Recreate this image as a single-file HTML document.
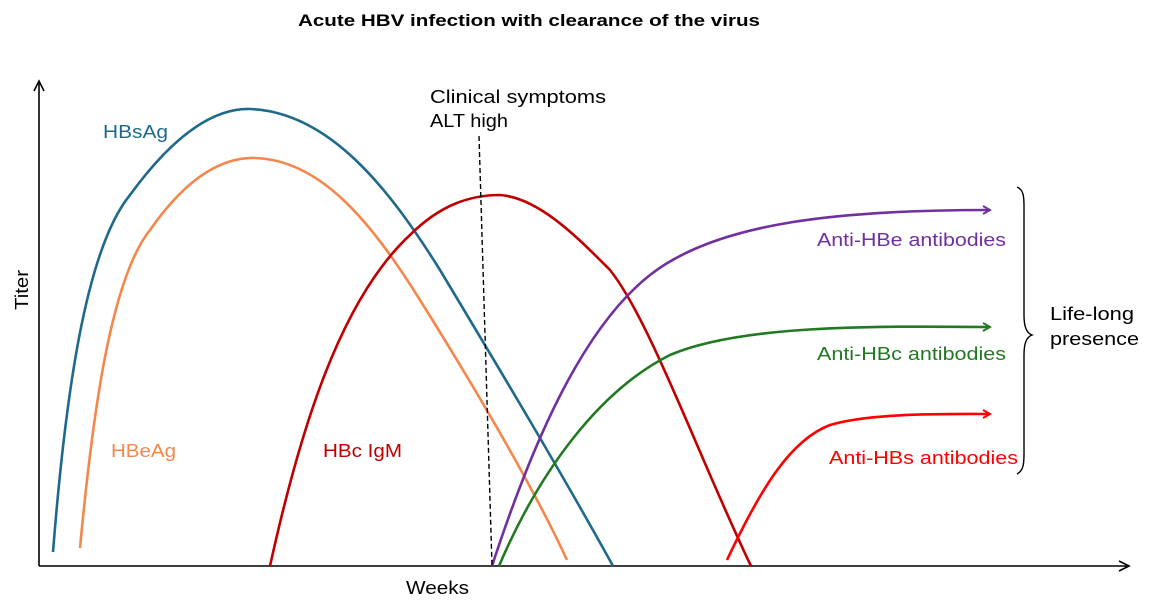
<!DOCTYPE html>
<html><head><meta charset="utf-8"><style>
html,body{margin:0;padding:0;background:#fff;}
svg{display:block;font-family:"Liberation Sans","DejaVu Sans",sans-serif;}
</style></head><body>
<svg width="1160" height="615" viewBox="0 0 1160 615" xmlns="http://www.w3.org/2000/svg">
<defs>
<marker id="ah" markerWidth="10" markerHeight="10" refX="8" refY="5" orient="auto" markerUnits="userSpaceOnUse">
<path d="M1,1 L8,5 L1,9" fill="none" stroke="context-stroke" stroke-width="2"/></marker>
</defs>
<text x="298" y="26" font-size="17" font-weight="bold" fill="#000" textLength="462" lengthAdjust="spacingAndGlyphs">Acute HBV infection with clearance of the virus</text>
<!-- axes -->
<path d="M39,566 L39,82" stroke="#000" stroke-width="1.6" fill="none"/>
<path d="M34,91 L39,81 L44,91" stroke="#000" stroke-width="1.6" fill="none"/>
<path d="M39,566 L1128,566" stroke="#000" stroke-width="1.6" fill="none"/>
<path d="M1119,561 L1129,566 L1119,571" stroke="#000" stroke-width="1.6" fill="none"/>
<text x="28" y="310" font-size="18" transform="rotate(-90 28 310)" textLength="40" lengthAdjust="spacingAndGlyphs">Titer</text>
<text x="406" y="594" font-size="18" textLength="63" lengthAdjust="spacingAndGlyphs">Weeks</text>
<!-- curves -->
<path d="M53,552 C65,400 85,250 130,195 C170,140 210,108 250,109 C330,112 390,190 440,270 C500,370 560,470 613,566" stroke="#1f6a8c" stroke-width="2.6" fill="none"/>
<path d="M80,548 C92,420 110,280 150,230 C185,180 220,157 255,158 C320,160 370,220 420,300 C470,380 530,480 567,560" stroke="#f4874b" stroke-width="2.6" fill="none"/>
<path d="M270,566 C300,430 340,300 410,235 C440,205 470,195 500,195 C540,198 580,240 610,270 C650,320 700,460 751,566" stroke="#c00000" stroke-width="2.6" fill="none"/>
<path d="M492,566 C530,450 580,330 650,275 C720,220 850,210 990,210" stroke="#7030a0" stroke-width="2.6" fill="none" marker-end="url(#ah)"/>
<path d="M499,566 C540,470 600,390 670,355 C740,325 870,326 990,327" stroke="#217a21" stroke-width="2.6" fill="none" marker-end="url(#ah)"/>
<path d="M727,560 C760,490 790,440 830,425 C870,413 940,414 990,414" stroke="#ff0000" stroke-width="2.6" fill="none" marker-end="url(#ah)"/>
<path d="M479,136 L492,566" stroke="#000" stroke-width="1.4" stroke-dasharray="5,3" fill="none"/>
<!-- brace -->
<path d="M1017,187 C1025,190 1024,200 1024,215 L1024,315 C1024,328 1027,333 1032,335 C1027,337 1024,342 1024,355 L1024,445 C1024,460 1025,470 1017,474" stroke="#000" stroke-width="1.4" fill="none"/>
<!-- labels -->
<text x="103" y="138" font-size="18" fill="#1f6a8c" textLength="65" lengthAdjust="spacingAndGlyphs">HBsAg</text>
<text x="111" y="457" font-size="18" fill="#f4874b" textLength="65" lengthAdjust="spacingAndGlyphs">HBeAg</text>
<text x="323" y="457" font-size="18" fill="#c00000" textLength="79" lengthAdjust="spacingAndGlyphs">HBc IgM</text>
<text x="430" y="103" font-size="18" fill="#000" textLength="176" lengthAdjust="spacingAndGlyphs">Clinical symptoms</text>
<text x="430" y="127" font-size="18" fill="#000" textLength="78" lengthAdjust="spacingAndGlyphs">ALT high</text>
<text x="817" y="246" font-size="18" fill="#7030a0" textLength="189" lengthAdjust="spacingAndGlyphs">Anti-HBe antibodies</text>
<text x="817" y="360" font-size="18" fill="#217a21" textLength="189" lengthAdjust="spacingAndGlyphs">Anti-HBc antibodies</text>
<text x="829" y="464" font-size="18" fill="#ff0000" textLength="189" lengthAdjust="spacingAndGlyphs">Anti-HBs antibodies</text>
<text x="1050" y="320" font-size="18" fill="#000" textLength="84" lengthAdjust="spacingAndGlyphs">Life-long</text>
<text x="1050" y="345" font-size="18" fill="#000" textLength="89" lengthAdjust="spacingAndGlyphs">presence</text>
</svg>
</body></html>
